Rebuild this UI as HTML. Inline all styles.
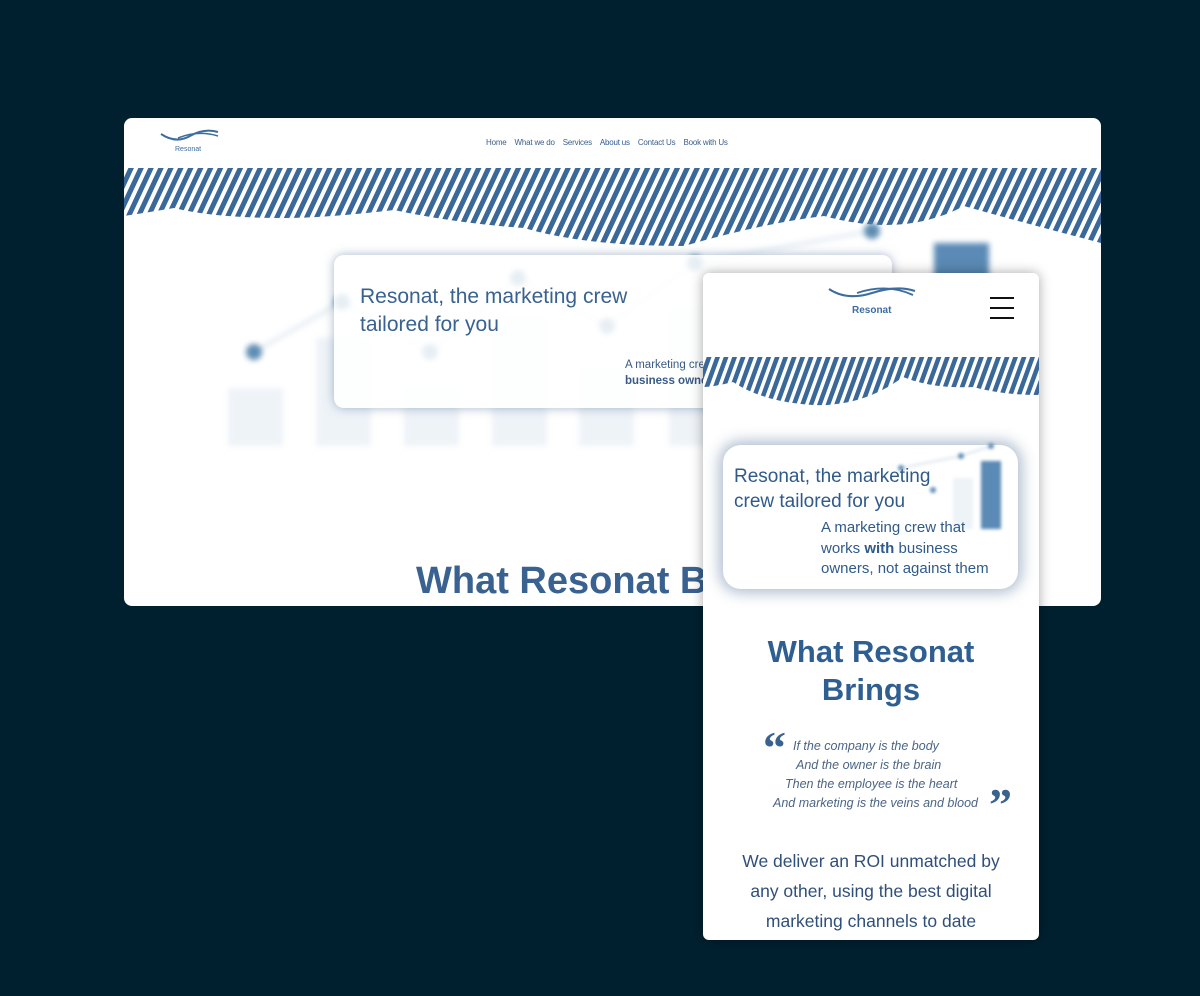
<!DOCTYPE html>
<html><head><meta charset="utf-8">
<style>
*{margin:0;padding:0;box-sizing:border-box}
body{width:1200px;height:996px;background:#002030;position:relative;overflow:hidden;font-family:"Liberation Sans",sans-serif}
.abs{position:absolute}
.desk{left:124px;top:118px;width:977px;height:488px;background:#fff;border-radius:8px;overflow:hidden}
.mob{left:703px;top:273px;width:336px;height:667px;background:#fff;border-radius:6px;overflow:hidden;box-shadow:0 0 12px rgba(0,0,0,.35)}
.nav{font-size:8px;color:#3b5f8a;top:20px;left:362px;letter-spacing:-.2px}
.nav span{margin-right:8px}
.blur{filter:blur(3px)}
</style></head><body>
<div class="abs desk">
  <svg class="abs" style="left:34px;top:8px" width="62" height="28" viewBox="0 0 62 28">
    <path d="M3 8 Q18 18 32 10 T60 6" stroke="#3d6d9e" stroke-width="2" fill="none"/>
    <path d="M20 12 Q40 4 60 10" stroke="#3d6d9e" stroke-width="1.5" fill="none"/>
    <text x="17" y="25" font-size="7" fill="#3d6d9e" font-family="Liberation Sans">Resonat</text>
  </svg>
  <div class="abs nav"><span>Home</span><span>What we do</span><span>Services</span><span style="color:#2c5a9a">About us</span><span>Contact Us</span><span>Book with Us</span></div>
  <svg class="abs" style="left:0;top:50px" width="977" height="80" viewBox="0 0 977 80">
    <defs>
      <pattern id="st" width="9" height="9" patternUnits="userSpaceOnUse" patternTransform="rotate(25)">
        <rect width="9" height="9" fill="#3a6899"/><rect width="4" height="9" fill="#fff"/>
      </pattern>
    </defs>
    <rect width="977" height="4" fill="#3a6899"/>
    <path d="M0 0 H977 V75 Q900 55 840 38 Q780 70 700 48 Q640 55 560 78 Q460 78 400 60 Q330 55 270 42 Q200 50 160 50 Q90 50 50 40 Q20 45 0 48 Z" fill="url(#st)"/>
  </svg>
  <div class="blur">
    <div class="abs" style="left:104px;top:270px;width:55px;height:58px;background:#eef3f8"></div>
    <div class="abs" style="left:192px;top:220px;width:55px;height:108px;background:#eef3f8"></div>
    <div class="abs" style="left:280px;top:270px;width:55px;height:58px;background:#eef3f8"></div>
    <div class="abs" style="left:368px;top:200px;width:55px;height:128px;background:#eef3f8"></div>
    <div class="abs" style="left:455px;top:250px;width:55px;height:78px;background:#eef3f8"></div>
    <div class="abs" style="left:545px;top:190px;width:55px;height:138px;background:#eef3f8"></div>
    <div class="abs" style="left:810px;top:125px;width:55px;height:60px;background:#5a8ab5"></div>
    <svg class="abs" style="left:0;top:0" width="977" height="488"><polyline points="130,234 218,184 306,234 394,160 483,208 571,145 748,113" stroke="#dde7f0" stroke-width="3" fill="none"/>
    <g fill="#5e8db3"><circle cx="130" cy="234" r="8"/><circle cx="218" cy="184" r="8"/><circle cx="306" cy="234" r="8"/><circle cx="394" cy="160" r="8"/><circle cx="483" cy="208" r="8"/><circle cx="571" cy="145" r="8"/><circle cx="748" cy="113" r="8"/></g></svg>
  </div>
  <div class="abs" style="left:210px;top:137px;width:558px;height:153px;background:rgba(255,255,255,.85);border-radius:10px;box-shadow:0 0 10px rgba(80,110,150,.5)"></div>
  <div class="abs" style="left:236px;top:165px;font-size:21px;line-height:28px;color:#3a6290">Resonat, the marketing crew<br>tailored for you</div>
  <div class="abs" style="left:501px;top:239px;font-size:11.5px;line-height:16px;color:#3a5a84">A marketing crew that<br><b>business owners</b></div>
  <div class="abs" style="left:292px;top:442px;font-size:38px;font-weight:bold;color:#3a6290;white-space:nowrap">What Resonat Brings</div>
</div>

<div class="abs mob">
  <svg class="abs" style="left:124px;top:8px" width="90" height="36" viewBox="0 0 90 36">
    <path d="M2 8 Q20 20 45 12 T88 10" stroke="#3d6d9e" stroke-width="2.2" fill="none"/>
    <path d="M30 12 Q60 2 86 14" stroke="#3d6d9e" stroke-width="1.8" fill="none"/>
    <text x="25" y="32" font-size="10" fill="#3d6d9e" font-family="Liberation Sans" font-weight="bold">Resonat</text>
  </svg>
  <div class="abs" style="left:287px;top:24px;width:24px;height:2px;background:#111"></div>
  <div class="abs" style="left:287px;top:34px;width:24px;height:2px;background:#111"></div>
  <div class="abs" style="left:287px;top:44px;width:24px;height:2px;background:#111"></div>
  <svg class="abs" style="left:0;top:84px" width="336" height="60" viewBox="0 0 336 60">
    <defs>
      <pattern id="st2" width="8" height="8" patternUnits="userSpaceOnUse" patternTransform="rotate(20)">
        <rect width="8" height="8" fill="#3a6899"/><rect width="3.5" height="8" fill="#fff"/>
      </pattern>
    </defs>
    <rect width="336" height="3" fill="#3a6899"/>
    <path d="M0 0 H336 V38 Q300 38 270 30 Q230 32 200 20 Q160 50 110 48 Q60 45 30 25 Q10 30 0 30 Z" fill="url(#st2)"/>
  </svg>
  <div class="abs" style="left:20px;top:172px;width:295px;height:144px;background:#fff;border-radius:18px;box-shadow:0 0 14px 4px rgba(80,110,150,.45)"></div>
  <div class="blur" style="filter:blur(1.5px)">
    <div class="abs" style="left:278px;top:188px;width:20px;height:68px;background:#5a8ab5"></div>
    <div class="abs" style="left:250px;top:205px;width:20px;height:51px;background:#eef3f8"></div>
    <svg class="abs" style="left:0;top:0" width="336" height="400"><polyline points="198,195 258,183 288,173" stroke="#dde7f0" stroke-width="2" fill="none"/><g fill="#5e8db3"><circle cx="198" cy="195" r="3"/><circle cx="258" cy="183" r="3"/><circle cx="288" cy="173" r="3"/><circle cx="230" cy="217" r="3"/></g></svg>
  </div>
  <div class="abs" style="left:31px;top:191px;font-size:19px;line-height:25px;color:#2f5a8a">Resonat, the marketing<br>crew tailored for you</div>
  <div class="abs" style="left:118px;top:245px;font-size:15px;line-height:20.5px;color:#2f5a8a">A marketing crew that<br>works <b>with</b> business<br>owners, not against them</div>
  <div class="abs" style="left:0;top:360px;width:336px;text-align:center;font-size:31px;line-height:38px;font-weight:bold;color:#2f5f92">What Resonat<br>Brings</div>
  <div class="abs" style="left:60px;top:452px;font-size:46px;line-height:46px;font-weight:bold;color:#3a6290;font-family:'Liberation Serif',serif">&#8220;</div>
  <div class="abs" style="left:0;top:464px;width:336px;font-size:12.5px;line-height:19px;color:#4a6585;font-style:italic">
    <div style="padding-left:90px">If the company is the body</div>
    <div style="padding-left:93px">And the owner is the brain</div>
    <div style="padding-left:82px">Then the employee is the heart</div>
    <div style="padding-left:70px">And marketing is the veins and blood</div>
  </div>
  <div class="abs" style="left:286px;top:509px;font-size:46px;line-height:46px;font-weight:bold;color:#3a6290;font-family:'Liberation Serif',serif">&#8221;</div>
  <div class="abs" style="left:0;top:573px;width:336px;text-align:center;font-size:17.5px;line-height:30px;color:#2f4f7a">We deliver an ROI unmatched by<br>any other, using the best digital<br>marketing channels to date</div>
</div>
</body></html>
